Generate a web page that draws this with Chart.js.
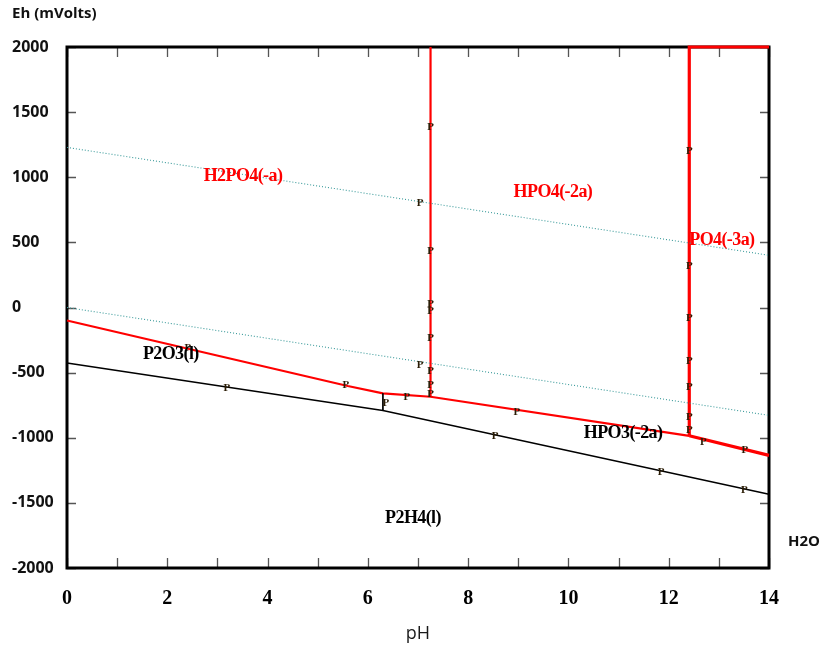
<!DOCTYPE html>
<html><head><meta charset="utf-8">
<script src="https://cdn.jsdelivr.net/npm/chart.js@4.4.0/dist/chart.umd.min.js"></script>
<style>html,body{margin:0;padding:0;background:#fff;} canvas{display:block;}</style>
</head><body>
<canvas id="c" width="825" height="651"></canvas>
<script>
// ---- data ----
const pHTickMarks = [0,1,2,3,4,5,6,7,8,9,10,11,12,13,14];
const ehTickMarks = [2000,1500,1000,500,0,-500,-1000,-1500,-2000];

const upperWaterPH = [0, 14];
const upperWaterEh = [1229, 401];
const lowerWaterPH = [0, 14];
const lowerWaterEh = [0, -828];

const redLowerPH = [0, 5.6, 6.3, 7.25, 12.41];
const redLowerEh = [-100, -603, -659, -685, -985];
const redRightPH = [12.41, 14];
const redRightEh = [-985, -1135];
const redV1PH = [7.25, 7.25];
const redV1Eh = [-685, 2000];
const redV2PH = [14, 12.41, 12.41];
const redV2Eh = [2000, 2000, -985];

const blackPH = [0, 6.3, 14];
const blackEh = [-426, -790, -1434];
const blackStubPH = [6.3, 6.3];
const blackStubEh = [-659, -790];

const markerPH = [2.41, 3.19, 5.56, 6.36, 6.78, 7.04, 7.04, 7.25, 7.25, 7.25, 7.25, 7.25, 7.25, 7.25, 7.25,
                  8.97, 8.54, 11.85, 13.51, 12.69, 13.52, 12.41, 12.41, 12.41, 12.41, 12.41, 12.41, 12.41];
const markerEh = [-311, -618, -595, -733, -687, -441, 800, 1388, 436, 27, -27, -234, -488, -595, -664,
                  -802, -986, -1265, -1401, -1030, -1099, 1204, 319, -83, -411, -608, -843, -941];

const regionNames = ['H2PO4(-a)', 'HPO4(-2a)', 'PO4(-3a)', 'P2O3(l)', 'HPO3(-2a)', 'P2H4(l)'];
const regionPH = [3.51, 9.69, 13.06, 2.07, 11.09, 6.9];
const regionEh = [1010, 887, 518, -357, -964, -1616];
const regionColors = ['#ff0000', '#ff0000', '#ff0000', '#000000', '#000000', '#000000'];

const yTitle = 'Eh (mVolts)';
const xTitle = 'pH';
const waterLabel = 'H2O';

// ---- helpers ----
const pts = (xs, ys) => xs.map((x, i) => ({x: x, y: ys[i]}));
const line = (xs, ys, color, width, dash) => ({
  data: pts(xs, ys), borderColor: color, borderWidth: width, borderDash: dash || [],
  pointRadius: 0, showLine: true, tension: 0, fill: false, clip: false
});

const framePlugin = {
  id: 'frame',
  beforeDatasetsDraw(chart) {
    const {ctx, chartArea: a, scales: {x, y}} = chart;
    ctx.save();
    ctx.strokeStyle = '#555';
    ctx.lineWidth = 1.3;
    ctx.beginPath();
    pHTickMarks.forEach(v => {
      const px = Math.round(x.getPixelForValue(v)) + 0.5;
      ctx.moveTo(px, a.bottom); ctx.lineTo(px, a.bottom - 10);
      ctx.moveTo(px, a.top); ctx.lineTo(px, a.top + 10);
    });
    ehTickMarks.forEach(v => {
      const py = Math.round(y.getPixelForValue(v)) + 0.5;
      ctx.moveTo(a.left, py); ctx.lineTo(a.left + 9, py);
      ctx.moveTo(a.right, py); ctx.lineTo(a.right - 9, py);
    });
    ctx.stroke();
    ctx.strokeStyle = '#000';
    ctx.lineWidth = 3;
    ctx.strokeRect(a.left, a.top, a.right - a.left, a.bottom - a.top);
    ctx.restore();
  },
  afterDatasetsDraw(chart) {
    const {ctx, chartArea: a, scales: {x, y}} = chart;
    ctx.save();
    // P markers
    ctx.font = 'bold 11px "Liberation Serif"';
    ctx.fillStyle = '#2a1c05';
    ctx.textAlign = 'center';
    ctx.textBaseline = 'middle';
    markerPH.forEach((v, i) => {
      ctx.fillText('P', x.getPixelForValue(v), y.getPixelForValue(markerEh[i]));
    });
    // region labels
    ctx.font = 'bold 18px "Liberation Serif"';
    try { ctx.letterSpacing = '-0.6px'; } catch (e) {}
    regionNames.forEach((n, i) => {
      ctx.fillStyle = regionColors[i];
      ctx.fillText(n, x.getPixelForValue(regionPH[i]), y.getPixelForValue(regionEh[i]));
    });
    try { ctx.letterSpacing = '0px'; } catch (e) {}
    // titles
    ctx.fillStyle = '#111';
    ctx.font = 'bold 15px "Open Sans"';
    ctx.textAlign = 'left';
    ctx.fillText(yTitle, 12, 14);
    ctx.fillText(waterLabel, a.right + 19, y.getPixelForValue(-1800));
    ctx.restore();
  }
};

new Chart(document.getElementById('c'), {
  type: 'scatter',
  data: {
    datasets: [
      line(upperWaterPH, upperWaterEh, '#3a9a9a', 1.1, [1, 2]),
      line(lowerWaterPH, lowerWaterEh, '#3a9a9a', 1.1, [1, 2]),
      line(blackPH, blackEh, '#000000', 1.5),
      line(blackStubPH, blackStubEh, '#000000', 1),
      line(redLowerPH, redLowerEh, '#ff0000', 2.2),
      line(redRightPH, redRightEh, '#ff0000', 3.2),
      line(redV1PH, redV1Eh, '#ff0000', 2.2),
      line(redV2PH, redV2Eh, '#ff0000', 3.2)
    ]
  },
  options: {
    responsive: false,
    animation: false,
    events: [],
    layout: {padding: {left: 12, right: 56, top: 47, bottom: 0}},
    plugins: {legend: {display: false}, tooltip: {enabled: false}, title: {display: false}},
    scales: {
      x: {
        type: 'linear', position: 'bottom', min: 0, max: 14,
        ticks: {stepSize: 2, autoSkip: false, maxRotation: 0, padding: 19, color: '#000',
                font: {family: 'Liberation Serif', weight: 'bold', size: 20},
                callback: v => String(v)},
        grid: {display: false, drawTicks: false},
        border: {display: false},
        title: {display: true, text: xTitle, color: '#1a1a1a', font: {family: 'Open Sans', size: 18},
                padding: {top: 0, bottom: 6}},
        afterFit(s) { s.height = 83; }
      },
      y: {
        type: 'linear', position: 'left', min: -2000, max: 2000,
        ticks: {stepSize: 500, crossAlign: 'far', color: '#111', padding: 0,
                font: {family: 'Open Sans', weight: 'bold', size: 16},
                callback: v => String(v)},
        grid: {display: false, drawTicks: false},
        border: {display: false},
        afterFit(s) { s.width = 55; }
      }
    }
  },
  plugins: [framePlugin]
});
</script>
</body></html>
